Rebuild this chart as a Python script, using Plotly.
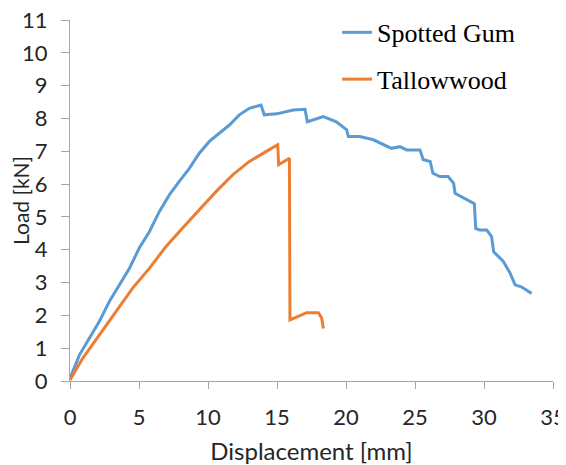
import plotly.graph_objects as go

# Spotted Gum (blue)
sg_x = [0, 0.68, 1.4, 2.12, 2.85, 3.57, 4.3, 5.02, 5.75, 6.47, 7.2, 7.92, 8.65, 9.37, 10.1,
        10.82, 11.55, 12.27, 13.0, 13.84, 14.08,
        14.98, 16.18, 17.03, 17.2, 18.36, 19.3, 20.05, 20.17, 21.0, 21.98, 23.3, 23.9, 24.4,
        25.36, 25.6, 26.1, 26.3, 26.8, 27.4, 27.8, 27.9, 28.75, 29.3, 29.4, 29.7, 30.2, 30.55,
        30.7, 31.4, 31.9, 32.25, 32.7, 33.45]
sg_y = [0.08, 0.79, 1.3, 1.81, 2.42, 2.93, 3.43, 4.05, 4.55, 5.16, 5.67, 6.08, 6.48, 6.94, 7.3,
        7.55, 7.8, 8.11, 8.31, 8.41, 8.11,
        8.14, 8.26, 8.28, 7.9, 8.06, 7.9, 7.65, 7.45, 7.45, 7.35, 7.09, 7.14, 7.04,
        7.04, 6.74, 6.69, 6.33, 6.23, 6.23, 6.02, 5.72, 5.52, 5.4, 4.65, 4.6, 4.6, 4.4,
        3.94, 3.64, 3.28, 2.93, 2.87, 2.67]

# Tallowwood (orange)
tw_x = [0, 0.92, 2.12, 3.33, 4.54, 5.75, 6.96, 8.16, 9.37, 10.58, 11.79, 13.0, 14.2, 15.05,
        15.12, 15.9, 15.94, 17.15, 18.0, 18.24, 18.36]
tw_y = [0.03, 0.69, 1.4, 2.11, 2.83, 3.43, 4.1, 4.66, 5.21, 5.77, 6.28, 6.69, 6.99, 7.2,
        6.59, 6.79, 1.86, 2.08, 2.08, 1.91, 1.6]

x_ticks = [0, 5, 10, 15, 20, 25, 30, 35]
y_ticks = list(range(0, 12))

fig = go.Figure()
fig.add_trace(go.Scatter(x=sg_x, y=sg_y, mode="lines", name="Spotted Gum",
                         line=dict(color="#5B9BD5", width=3), legendgroup="a"))
fig.add_trace(go.Scatter(x=tw_x, y=tw_y, mode="lines", name="Tallowwood",
                         line=dict(color="#ED7D31", width=3), legendgroup="b"))

axis_common = dict(showgrid=False, zeroline=False, showline=True, linecolor="#A6A6A6",
                   linewidth=1, ticks="outside", tickcolor="#A6A6A6", automargin=False,
                   ticklabeloverflow="allow",
                   tickfont=dict(family="Lato", size=22, color="#262626"))
# The page body has an 8px margin, so the figure is sized and padded to fit the 566x465 window.
fig.update_layout(
    width=558, height=457,
    margin=dict(l=62, r=13, t=12, b=84, autoexpand=False),
    paper_bgcolor="white", plot_bgcolor="white",
    xaxis=dict(range=[0, 35], tickvals=x_ticks, ticklen=7, ticklabelstandoff=10,
               title=dict(text="Displacement [mm]", font=dict(family="Lato", size=24, color="#262626"),
                          standoff=20),
               **axis_common),
    yaxis=dict(range=[0, 11], tickvals=y_ticks, ticklen=8, ticklabelstandoff=9,
               title=dict(text="Load [kN]", font=dict(family="Lato", size=21, color="#262626"),
                          standoff=0),
               **axis_common),
    legend=dict(x=0.553, y=0.998, xref="paper", yref="container",
                xanchor="left", yanchor="top",
                font=dict(family="Liberation Serif", size=26, color="black"),
                bgcolor="rgba(0,0,0,0)", tracegroupgap=10, itemwidth=30),
    showlegend=True,
)
fig.write_html("out.html")
